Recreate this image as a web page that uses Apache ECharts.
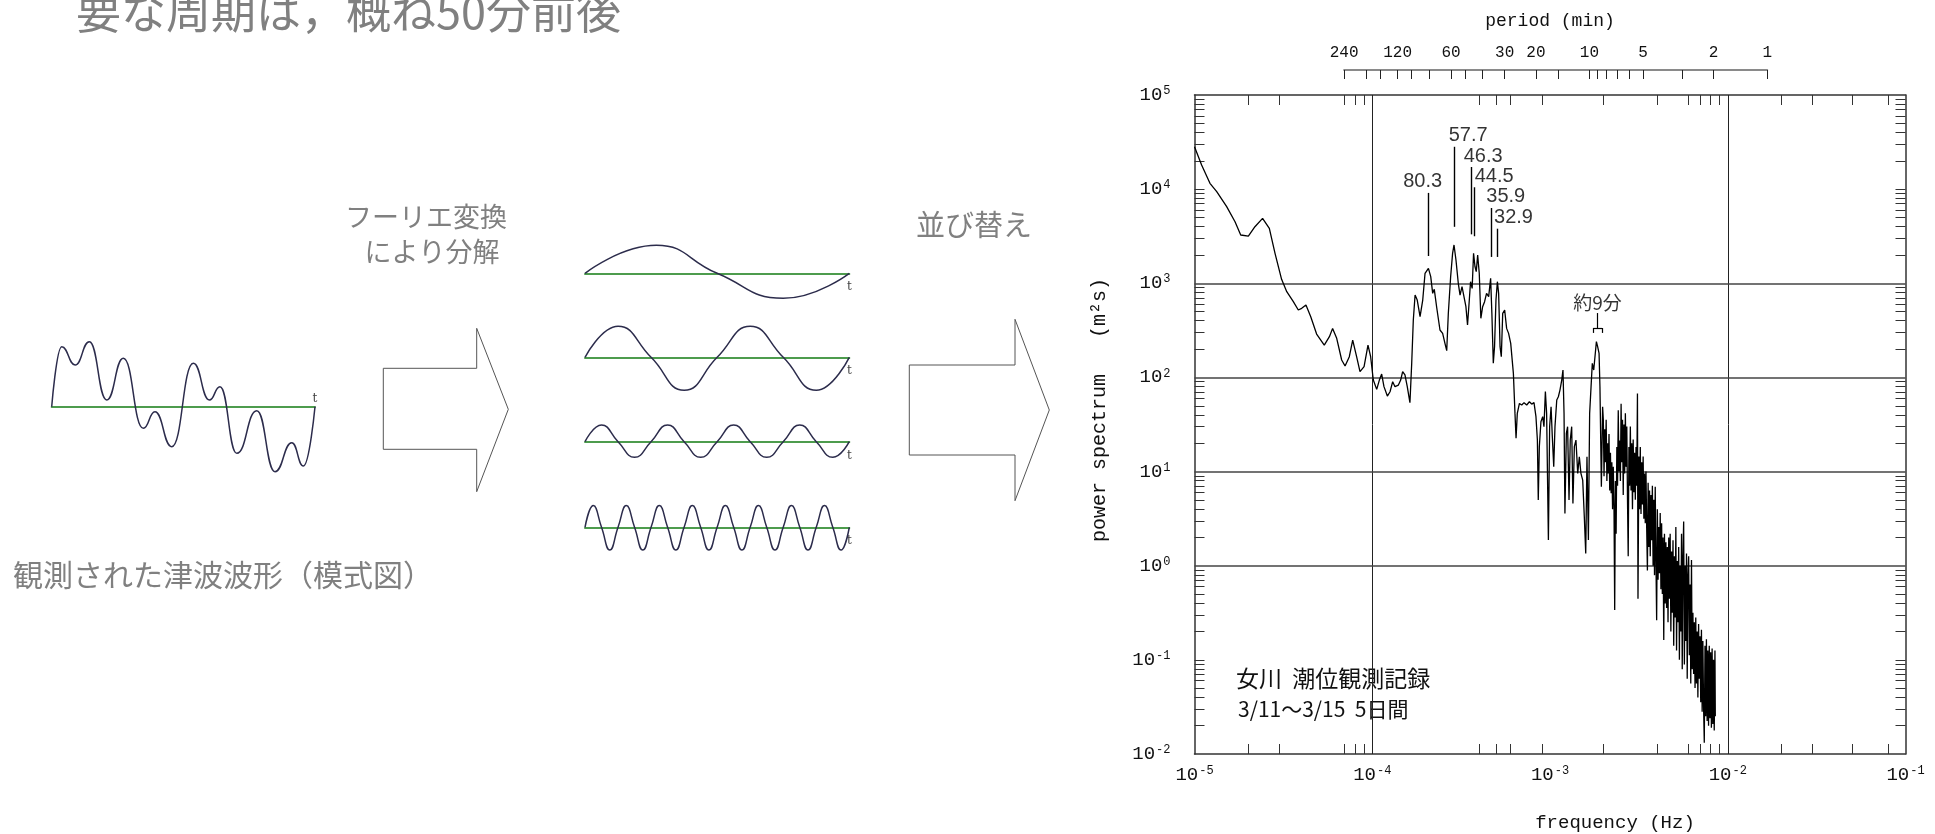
<!DOCTYPE html>
<html><head><meta charset="utf-8">
<script src="https://cdn.jsdelivr.net/npm/echarts@6/dist/echarts.min.js"></script>
<style>html,body{margin:0;padding:0;background:#fff}#c{width:1935px;height:834px}</style>
</head><body><div id="c"></div>
<script>
// ================= DATA =================
// schematic observed tsunami waveform (time 0..100, amplitude)
const obsWaveT = [0, 3.8, 8.9, 14.3, 20.9, 27.2, 34.8, 39.2, 45.6, 53.8, 59.9, 63.9, 70.3, 77.9, 84.8, 91.2, 95.6, 100];
const obsWaveV = [0, 60, 41.7, 65, 6.7, 48.4, -21.6, -5, -40, 43.4, 6.7, 20, -46.6, -4, -65, -36, -59.3, 0];
// decomposed sine components
const sine1T = [0, 27, 50, 75, 100];
const sine1V = [0, 28, 0, -25, 0];
const sine2T = [0, 12.5, 25, 37.5, 50, 62.5, 75, 87.5, 100];
const sine2V = [0, 31, 0, -33, 0, 31, 0, -33, 0];
const sine3T = [0, 6.25, 12.5, 18.75, 25, 31.25, 37.5, 43.75, 50, 56.25, 62.5, 68.75, 75, 81.25, 87.5, 93.75, 100];
const sine3V = [0, 16.7, 0, -15.6, 0, 16.7, 0, -15.6, 0, 16.7, 0, -15.6, 0, 16.7, 0, -15.6, 0];
const sine4T = [0, 3.125, 6.25, 9.375, 12.5, 15.625, 18.75, 21.875, 25, 28.125, 31.25, 34.375, 37.5, 40.625, 43.75, 46.875, 50,
  53.125, 56.25, 59.375, 62.5, 65.625, 68.75, 71.875, 75, 78.125, 81.25, 84.375, 87.5, 90.625, 93.75, 96.875, 100];
const sine4V = [0, 21.7, 0, -22.7, 0, 21.7, 0, -22.7, 0, 21.7, 0, -22.7, 0, 21.7, 0, -22.7, 0,
  21.7, 0, -22.7, 0, 21.7, 0, -22.7, 0, 21.7, 0, -22.7, 0, 21.7, 0, -22.7, 0];

// power spectrum readings: [log10 frequency (Hz), log10 power (m^2 s)]
const spectrumLog10 = [
  [-5.000, 4.451], [-4.960, 4.256], [-4.913, 4.062], [-4.875, 3.973], [-4.819, 3.814], [-4.772, 3.654], [-4.740, 3.513], [-4.697, 3.502],
  [-4.660, 3.601], [-4.617, 3.690], [-4.579, 3.584], [-4.547, 3.318], [-4.510, 3.042], [-4.481, 2.911], [-4.444, 2.805], [-4.416, 2.716],
  [-4.397, 2.734], [-4.373, 2.769], [-4.346, 2.645], [-4.313, 2.461], [-4.270, 2.344], [-4.241, 2.433], [-4.223, 2.521], [-4.200, 2.415],
  [-4.172, 2.185], [-4.153, 2.121], [-4.129, 2.220], [-4.110, 2.397], [-4.088, 2.220], [-4.069, 2.061], [-4.046, 2.114], [-4.024, 2.344],
  [-4.009, 2.220], [-3.994, 1.972], [-3.975, 1.873], [-3.960, 1.972], [-3.947, 2.036], [-3.934, 1.902], [-3.915, 1.802], [-3.900, 1.848],
  [-3.885, 1.955], [-3.872, 1.902], [-3.853, 1.919], [-3.840, 1.972], [-3.829, 2.061], [-3.816, 2.026], [-3.803, 1.902], [-3.788, 1.732],
  [-3.778, 2.150], [-3.769, 2.610], [-3.759, 2.875], [-3.747, 2.822], [-3.731, 2.645], [-3.716, 2.822], [-3.703, 3.106], [-3.684, 3.159],
  [-3.671, 3.070], [-3.660, 2.893], [-3.651, 2.936], [-3.638, 2.751], [-3.619, 2.504], [-3.604, 2.468], [-3.591, 2.362], [-3.581, 2.284],
  [-3.572, 2.681], [-3.559, 3.070], [-3.548, 3.318], [-3.540, 3.407], [-3.529, 3.247], [-3.516, 3.000], [-3.506, 2.875], [-3.495, 2.964],
  [-3.484, 2.946], [-3.473, 2.751], [-3.464, 2.557], [-3.454, 2.822], [-3.447, 3.017], [-3.438, 2.946], [-3.430, 3.318], [-3.422, 3.176],
  [-3.415, 3.123], [-3.407, 3.300], [-3.398, 3.106], [-3.389, 2.628], [-3.379, 2.751], [-3.368, 2.805], [-3.357, 2.893], [-3.345, 2.858],
  [-3.334, 3.052], [-3.327, 2.681], [-3.319, 2.150], [-3.312, 2.327], [-3.304, 2.822], [-3.296, 3.017], [-3.289, 2.893], [-3.281, 2.327],
  [-3.274, 2.220], [-3.266, 2.681], [-3.255, 2.716], [-3.244, 2.521], [-3.233, 2.468], [-3.221, 2.362], [-3.214, 2.380], [-3.206, 2.043],
  [-3.197, 1.618], [-3.191, 1.353], [-3.184, 1.618], [-3.172, 1.724], [-3.159, 1.707], [-3.146, 1.732], [-3.131, 1.707], [-3.116, 1.742],
  [-3.103, 1.717], [-3.090, 1.732], [-3.079, 1.583], [-3.071, 1.335], [-3.066, 0.698], [-3.060, 1.264], [-3.051, 1.530], [-3.041, 1.583],
  [-3.034, 1.477], [-3.026, 1.849], [-3.019, 1.618], [-3.009, 0.273], [-3.002, 1.477], [-2.994, 1.689], [-2.987, 1.371], [-2.979, 1.052],
  [-2.972, 1.477], [-2.962, 1.760], [-2.953, 1.795], [-2.944, 1.866], [-2.934, 1.972], [-2.927, 2.079], [-2.921, 1.618], [-2.916, 0.556],
  [-2.908, 1.406], [-2.901, 1.477], [-2.893, 0.698], [-2.886, 1.335], [-2.878, 1.477], [-2.871, 0.662], [-2.863, 1.264], [-2.854, 1.335],
  [-2.844, 0.981], [-2.835, 1.158], [-2.826, 0.981], [-2.816, 0.910], [-2.807, 0.521], [-2.799, 0.131], [-2.792, 1.158], [-2.784, 0.273],
  [-2.777, 1.618], [-2.769, 1.902], [-2.762, 2.150], [-2.754, 2.079], [-2.747, 2.220], [-2.739, 2.380], [-2.732, 2.327], [-2.724, 2.256],
  [-2.719, 1.902], [-2.711, 0.839], [-2.704, 1.689],
  [-2.700, 1.55], [-2.696, 0.95], [-2.692, 1.45], [-2.688, 1.10], [-2.684, 1.55], [-2.680, 0.90], [-2.676, 1.30], [-2.672, 0.98],
  [-2.668, 1.40], [-2.664, 0.80], [-2.660, 1.20], [-2.656, 0.77], [-2.652, 1.10], [-2.648, 0.60], [-2.644, 1.05], [-2.640, 0.63],
  [-2.636, -0.47], [-2.632, 0.90], [-2.628, 0.34], [-2.624, 1.26], [-2.620, 0.85], [-2.616, 1.65], [-2.612, 1.00], [-2.608, 1.33],
  [-2.604, 0.90], [-2.600, 1.72], [-2.596, 1.10], [-2.592, 1.55], [-2.588, 0.75], [-2.584, 1.50], [-2.580, 0.98], [-2.576, 1.62],
  [-2.572, 1.05], [-2.568, 1.48], [-2.564, 0.70], [-2.560, 0.10], [-2.556, 1.26], [-2.552, 0.85], [-2.548, 1.48], [-2.544, 0.80],
  [-2.540, 1.30], [-2.536, 0.60], [-2.532, 1.34], [-2.528, 0.78], [-2.524, 1.20], [-2.520, 0.70], [-2.516, 1.26], [-2.512, 0.85],
  [-2.508, 1.83], [-2.505, -0.35], [-2.500, 1.16], [-2.496, 0.60], [-2.492, 1.26], [-2.488, 0.55], [-2.484, 1.10], [-2.480, 0.65],
  [-2.476, 1.16], [-2.472, 0.50], [-2.468, 0.98], [-2.464, 0.45], [-2.460, 1.00], [-2.456, 0.40], [-2.452, -0.05], [-2.448, 0.88],
  [-2.444, 0.20], [-2.440, 0.80], [-2.436, 0.10], [-2.432, 0.75], [-2.428, 0.27], [-2.424, 0.85], [-2.420, 0.00], [-2.416, 0.70],
  [-2.412, -0.10], [-2.408, 0.84], [-2.404, 0.05], [-2.400, -0.58], [-2.396, 0.60], [-2.392, -0.15], [-2.388, 0.41], [-2.384, -0.08],
  [-2.380, 0.56], [-2.376, -0.25], [-2.372, 0.45], [-2.368, -0.30], [-2.364, 0.30], [-2.360, -0.79], [-2.356, 0.34], [-2.352, -0.40],
  [-2.348, 0.25], [-2.344, -0.45], [-2.340, 0.20], [-2.336, -0.60], [-2.332, 0.30], [-2.328, -0.35], [-2.324, 0.34], [-2.320, -0.70],
  [-2.316, 0.15], [-2.312, -0.50], [-2.308, 0.27], [-2.304, -0.85], [-2.300, 0.10], [-2.296, -0.55], [-2.292, 0.41], [-2.288, -0.90],
  [-2.284, 0.05], [-2.280, -0.60], [-2.276, 0.20], [-2.272, -1.00], [-2.268, 0.00], [-2.264, -0.70], [-2.260, 0.34], [-2.256, -1.10],
  [-2.252, 0.10], [-2.248, 0.47], [-2.244, -1.05], [-2.240, 0.00], [-2.236, -0.80], [-2.232, 0.13], [-2.228, -1.20], [-2.224, -0.10],
  [-2.220, 0.10], [-2.216, -0.95], [-2.212, -0.20], [-2.208, -1.25], [-2.204, 0.06], [-2.200, -1.10], [-2.196, -0.50], [-2.192, -1.15],
  [-2.188, -0.60], [-2.184, -1.30], [-2.180, -0.55], [-2.176, -1.25], [-2.172, -0.70], [-2.168, -1.40], [-2.164, -0.62], [-2.160, -1.20],
  [-2.156, -0.75], [-2.152, -1.45], [-2.148, -0.68], [-2.144, -1.55], [-2.140, -0.80], [-2.136, -1.50], [-2.132, -1.88], [-2.128, -0.85],
  [-2.124, -1.60], [-2.120, -0.78], [-2.116, -1.65], [-2.112, -0.90], [-2.108, -1.70], [-2.104, -0.85], [-2.100, -1.62], [-2.096, -0.92],
  [-2.092, -1.72], [-2.088, -0.88], [-2.084, -1.68], [-2.080, -1.00], [-2.076, -1.75], [-2.072, -0.90], [-2.070, -1.60]
];

// labelled peaks: period (min), annotation line top / bottom (power, m^2 s)
const peakPeriodsMin = [80.3, 57.7, 46.3, 44.5, 35.9, 32.9];
const peakLineTopPower = [9120, 28180, 17180, 10470, 6310, 3800];
const peakLineBottomPower = [1950, 3980, 3310, 3160, 1905, 1905];
// "about 9 minutes" bracket
const bracketPeriodMin = 9;
const bracketPeriodEdgesMin = [9.55, 8.48];
const bracketPower = { stemTop: 483, bar: 335, legs: 297 };
const bracketText = '約9分';

// period axis (min)
const periodTickMin = [240, 180, 150, 120, 100, 80, 60, 50, 40, 30, 20, 15, 10, 9, 8, 7, 6, 5, 3, 2, 1];
const periodLabelMin = [240, 120, 60, 30, 20, 10, 5, 2, 1];
// decade exponents
const freqDecades = [-5, -4, -3, -2, -1];
const powerDecades = [-2, -1, 0, 1, 2, 3, 4, 5];
const freqMinorMultipliers = { '-5': [2, 3, 7, 8, 9], '-4': [4, 5, 6, 9], '-3': [2, 4, 6, 7, 8, 9], '-2': [2, 3, 5, 8] };
const powerMinorMultipliers = [2, 3, 4, 5, 6, 7, 8, 9];
const freqGridDecades = [-4, -2];
const powerGridDecades = [0, 1, 2, 3];

// ================= OPTION =================
const log10 = Math.log10;
const freqOfPeriod = m => log10(1 / (60 * m));
const zip = (a, b) => a.map((v, i) => [v, b[i]]);

const SPEC = { left: 1194.5, top: 95, width: 711, height: 659 };
const xPerDecade = SPEC.width / (freqDecades[freqDecades.length - 1] - freqDecades[0]);

const xMinor = [];
Object.keys(freqMinorMultipliers).forEach(d => freqMinorMultipliers[d].forEach(m => xMinor.push(+d + log10(m))));
const yMinor = [];
powerDecades.slice(0, -1).forEach(d => powerMinorMultipliers.forEach(m => yMinor.push(d + log10(m))));
yMinor.push(4, -1);

const pMin = freqOfPeriod(periodTickMin[0]);
const pMax = freqOfPeriod(periodTickMin[periodTickMin.length - 1]);
const periodGridLeft = SPEC.left + (pMin - freqDecades[0]) * xPerDecade;
const periodGridWidth = (pMax - pMin) * xPerDecade;

const supRich = {
  b: { fontFamily: 'Liberation Mono', fontSize: 19, color: '#111', lineHeight: 20 },
  s: { fontFamily: 'Liberation Mono', fontSize: 12, color: '#111', verticalAlign: 'top', lineHeight: 20, padding: [0, 0, 0, 1] }
};
const decLabel = v => '{b|10}{s|' + Math.round(v) + '}';

const waveColor = '#2c2c4c';
const baseGreen = '#4d9c4d';
const grids = [
  { left: 51.7, top: 336.7, width: 263.3, height: 140 },
  { left: 585, top: 238.3, width: 264.3, height: 70 },
  { left: 585, top: 322.3, width: 264.3, height: 70 },
  { left: 585, top: 406.7, width: 264.3, height: 70 },
  { left: 585, top: 492.3, width: 264.3, height: 70 },
  { left: SPEC.left, top: SPEC.top, width: SPEC.width, height: SPEC.height },
  { left: periodGridLeft, top: 70, width: periodGridWidth, height: 10 }
];

const xAxes = [], yAxes = [], series = [];
const waves = [[obsWaveT, obsWaveV, 70, 'bottom'], [sine1T, sine1V, 35, 'top'], [sine2T, sine2V, 35, 'top'], [sine3T, sine3V, 35, 'top'], [sine4T, sine4V, 35, 'top']];
waves.forEach((w, i) => {
  xAxes.push({
    gridIndex: i, type: 'value', min: 0, max: 100,
    axisLine: { show: true, onZero: true, lineStyle: { color: baseGreen, width: 2 } },
    axisTick: { show: false }, axisLabel: { show: false }, splitLine: { show: false },
    name: 't', nameLocation: 'end', nameGap: 0,
    nameTextStyle: { color: '#444', fontSize: 12, fontFamily: 'DejaVu Serif', align: 'center', verticalAlign: w[3], padding: w[3] === 'top' ? [8, 0, 0, 0] : [0, 0, 2, 0] }
  });
  yAxes.push({ gridIndex: i, type: 'value', min: -w[2], max: w[2], show: false });
  series.push({
    type: 'line', xAxisIndex: i, yAxisIndex: i, data: zip(w[0], w[1]), showSymbol: false,
    smooth: i === 0 ? 0.5 : true, smoothMonotone: i === 0 ? 'x' : undefined,
    lineStyle: { color: waveColor, width: 1.5 }, silent: true, z: 3
  });
});

// spectrum axes
const frameLine = { show: true, onZero: false, lineStyle: { color: '#333', width: 1.5 } };
const tickIn = vals => ({ show: true, inside: true, length: 10, customValues: vals, lineStyle: { color: '#333', width: 1 } });
xAxes.push({
  gridIndex: 5, type: 'value', min: freqDecades[0], max: freqDecades[freqDecades.length - 1], interval: 1, position: 'bottom',
  axisLine: frameLine, axisTick: tickIn(xMinor), splitLine: { show: false },
  axisLabel: { customValues: freqDecades, formatter: decLabel, rich: supRich, margin: 11 }
});
xAxes.push({
  gridIndex: 5, type: 'value', min: freqDecades[0], max: freqDecades[freqDecades.length - 1], interval: 1, position: 'top',
  axisLine: frameLine, axisTick: tickIn(xMinor), axisLabel: { show: false }, splitLine: { show: false }
});
yAxes.push({
  gridIndex: 5, type: 'value', min: powerDecades[0], max: powerDecades[powerDecades.length - 1], interval: 1, position: 'left',
  axisLine: frameLine, axisTick: tickIn(yMinor), splitLine: { show: false },
  axisLabel: { customValues: powerDecades, formatter: decLabel, rich: supRich, margin: 24 }
});
yAxes.push({
  gridIndex: 5, type: 'value', min: powerDecades[0], max: powerDecades[powerDecades.length - 1], interval: 1, position: 'right',
  axisLine: frameLine, axisTick: tickIn(yMinor), axisLabel: { show: false }, splitLine: { show: false }
});
// period axis
xAxes.push({
  gridIndex: 6, type: 'value', min: pMin, max: pMax, position: 'top',
  axisLine: { show: true, onZero: false, lineStyle: { color: '#8a8a8a', width: 2 } },
  axisTick: { show: true, inside: true, length: 9, customValues: periodTickMin.map(freqOfPeriod), lineStyle: { color: '#222', width: 1 } },
  axisLabel: {
    customValues: periodLabelMin.map(freqOfPeriod), margin: 9,
    formatter: v => String(Math.round(1 / (60 * Math.pow(10, v)))),
    fontFamily: 'Liberation Mono', fontSize: 16, color: '#111'
  },
  splitLine: { show: false }
});
yAxes.push({ gridIndex: 6, type: 'value', show: false });

// gridlines + annotation segments
const solid = (color, width) => ({ color: color, width: width, type: 'solid' });
const mlData = [];
freqGridDecades.forEach(d => mlData.push({ xAxis: d, lineStyle: solid('#222', 1) }));
powerGridDecades.forEach(d => mlData.push({ yAxis: d, lineStyle: solid('#444', 1.6) }));
peakPeriodsMin.forEach((p, i) => {
  const x = freqOfPeriod(p);
  mlData.push([{ coord: [x, log10(peakLineBottomPower[i])], lineStyle: solid('#000', 1.4) }, { coord: [x, log10(peakLineTopPower[i])] }]);
});
const bx = freqOfPeriod(bracketPeriodMin);
const bL = freqOfPeriod(bracketPeriodEdgesMin[0]);
const bR = freqOfPeriod(bracketPeriodEdgesMin[1]);
const segs = [
  [[bx, bracketPower.bar], [bx, bracketPower.stemTop]],
  [[bL, bracketPower.bar], [bR, bracketPower.bar]],
  [[bL, bracketPower.bar], [bL, bracketPower.legs]],
  [[bR, bracketPower.bar], [bR, bracketPower.legs]]
];
segs.forEach(s => mlData.push([{ coord: [s[0][0], log10(s[0][1])], lineStyle: solid('#000', 1.2) }, { coord: [s[1][0], log10(s[1][1])] }]));

series.push({
  type: 'line', xAxisIndex: 5, yAxisIndex: 5,
  data: spectrumLog10, showSymbol: false, silent: true,
  lineStyle: { color: '#000', width: 1.3 }, z: 3,
  markLine: { silent: true, symbol: ['none', 'none'], label: { show: false }, lineStyle: { type: 'solid' }, animation: false, data: mlData, z: 2 }
});

const labelDx = [-6, 14, 12, 20, 15, 16];
const labelData = peakPeriodsMin.map((p, i) => ({
  value: [freqOfPeriod(p), log10(peakLineTopPower[i])], name: String(p),
  label: { offset: [labelDx[i], 0] }
}));
labelData.push({ value: [bx, log10(bracketPower.stemTop)], name: bracketText, label: { offset: [0, 0], fontFamily: 'Noto Sans CJK JP', fontSize: 19 } });
series.push({
  type: 'scatter', xAxisIndex: 5, yAxisIndex: 5, symbolSize: 0, silent: true, data: labelData,
  label: { show: true, position: 'top', distance: 1, formatter: p => p.name, color: '#000', fontFamily: 'Liberation Sans', fontSize: 20 }
});

const grayFont = '"Noto Sans CJK JP"';
const graphic = [
  { type: 'text', x: 76, y: 12, style: { text: '要な周期は，概ね50分前後', font: '45px ' + grayFont, fill: '#808080', align: 'left', verticalAlign: 'middle' } },
  { type: 'text', x: 426, y: 217, style: { text: 'フーリエ変換', font: '27px ' + grayFont, fill: '#808080', align: 'center', verticalAlign: 'middle' } },
  { type: 'text', x: 432, y: 252, style: { text: 'により分解', font: '27px ' + grayFont, fill: '#808080', align: 'center', verticalAlign: 'middle' } },
  { type: 'text', x: 974, y: 225, style: { text: '並び替え', font: '29px ' + grayFont, fill: '#808080', align: 'center', verticalAlign: 'middle' } },
  { type: 'text', x: 13, y: 575, style: { text: '観測された津波波形（模式図）', font: '30px ' + grayFont, fill: '#808080', align: 'left', verticalAlign: 'middle' } },
  { type: 'polygon', shape: { points: [[383.3, 368.3], [476.7, 368.3], [476.7, 328.3], [508.3, 409.3], [476.7, 491.7], [476.7, 449.3], [383.3, 449.3]] }, style: { fill: '#fff', stroke: '#555', lineWidth: 1 } },
  { type: 'polygon', shape: { points: [[909.3, 365], [1015, 365], [1015, 319.3], [1049.3, 410], [1015, 500.7], [1015, 455], [909.3, 455]] }, style: { fill: '#fff', stroke: '#555', lineWidth: 1 } },
  { type: 'text', x: 1236, y: 678, style: { text: '女川  潮位観測記録', font: '23px ' + grayFont, fill: '#111', align: 'left', verticalAlign: 'middle' } },
  { type: 'text', x: 1238, y: 709, style: { text: '3/11〜3/15  5日間', font: '21px ' + grayFont, fill: '#111', align: 'left', verticalAlign: 'middle' } },
  { type: 'text', x: 1550, y: 21, style: { text: 'period (min)', font: '18px "Liberation Mono"', fill: '#111', align: 'center', verticalAlign: 'middle' } },
  { type: 'text', x: 1615, y: 823, style: { text: 'frequency (Hz)', font: '19px "Liberation Mono"', fill: '#111', align: 'center', verticalAlign: 'middle' } },
  { type: 'text', x: 1100, y: 410, rotation: Math.PI / 2, style: { text: 'power spectrum   (m²s)', font: '20px "Liberation Mono"', fill: '#111', align: 'center', verticalAlign: 'middle' } }
];

const chart = echarts.init(document.getElementById('c'), null, { renderer: 'canvas' });
chart.setOption({
  backgroundColor: '#fff', animation: false,
  grid: grids, xAxis: xAxes, yAxis: yAxes, series: series, graphic: graphic
});
</script></body></html>
